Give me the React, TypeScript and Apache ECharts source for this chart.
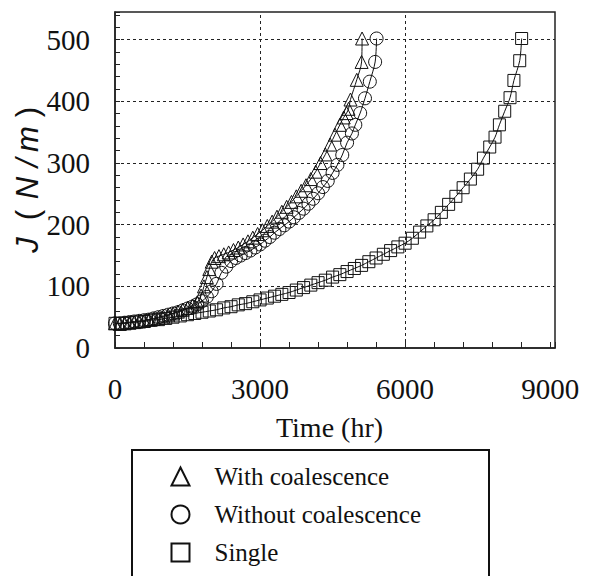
import React, { useEffect, useRef } from "react";
import * as echarts from "echarts";

// With coalescence (triangles)
const withTime = [0, 100, 200, 300, 400, 500, 600, 700, 800, 900, 1000, 1100, 1200, 1300, 1400, 1500, 1600, 1700,
  1780, 1840, 1900, 1950, 2000, 2060,
  2150, 2250, 2350, 2450, 2550, 2650, 2750, 2850, 2950, 3050, 3150, 3250, 3350, 3450, 3550, 3650, 3750, 3850, 3950, 4050, 4150, 4250, 4350, 4450, 4550, 4650,
  4730, 4790, 4830, 4870, 5000, 5100, 5110];
const withJ = [40, 39, 40, 41, 42, 43, 44, 46, 47, 49, 51, 53, 56, 59, 62, 65, 69, 74,
  85, 100, 115, 128, 140, 146,
  149, 152, 155, 159, 163, 168, 173, 179, 185, 191, 198, 205, 213, 221, 229, 237, 246, 255, 264, 274, 286, 300, 314, 330, 346, 362,
  374, 381, 388, 403, 435, 464, 502];

// Without coalescence (circles)
const withoutTime = [0, 100, 200, 300, 400, 500, 600, 700, 800, 900, 1000, 1100, 1200, 1300, 1400, 1500, 1600, 1700, 1800, 1900,
  2000, 2100, 2200, 2300, 2400, 2500, 2600, 2700, 2800, 2900, 3000, 3100, 3200, 3300, 3400, 3500, 3600, 3700, 3800, 3900,
  4000, 4100, 4200, 4300, 4400, 4500, 4600, 4700, 4800, 4900, 4970, 5070, 5170, 5270, 5380, 5410];
const withoutJ = [40, 40, 41, 42, 43, 44, 45, 46, 48, 50, 52, 54, 56, 58, 61, 64, 67, 71, 76, 83,
  92, 104, 122, 132, 141, 146, 150, 154, 158, 163, 168, 174, 180, 187, 193, 199, 205, 212, 219, 226,
  234, 242, 251, 261, 271, 284, 297, 313, 333, 348, 362, 381, 405, 432, 464, 502];

// Single (squares)
const singleTime = [0, 150, 300, 450, 600, 750, 900, 1050, 1200, 1350, 1500, 1650, 1800, 1950, 2100, 2250, 2400, 2550, 2700, 2850,
  3000, 3150, 3300, 3450, 3600, 3750, 3900, 4050, 4200, 4350, 4500, 4650, 4800, 4950, 5100, 5250, 5400, 5550, 5700, 5850,
  6000, 6150, 6300, 6450, 6600, 6750, 6900, 7050, 7200, 7350, 7500,
  7620, 7750, 7860, 7950, 8060, 8170, 8250, 8370, 8410];
const singleJ = [40, 40, 41, 42, 43, 45, 46, 48, 50, 52, 54, 56, 58, 60, 62, 65, 67, 70, 72, 75,
  78, 81, 84, 87, 90, 94, 98, 102, 106, 110, 115, 119, 124, 129, 134, 140, 146, 152, 158, 164,
  170, 178, 188, 198, 208, 220, 233, 246, 260, 274, 290,
  308, 326, 342, 362, 384, 406, 434, 466, 502];

const xTickLabels = [0, 3000, 6000, 9000];
const yTickLabels = [0, 100, 200, 300, 400, 500];
const xGridValues = [3000, 6000];
const yGridValues = [100, 200, 300, 400, 500];
const seriesNames = ["With coalescence", "Without coalescence", "Single"];

const serif = "'Liberation Serif', 'Times New Roman', serif";
const sans = "'Liberation Sans', Arial, sans-serif";

export default function App() {
  const ref = useRef<HTMLDivElement>(null);
  useEffect(() => {
    const chart = echarts.init(ref.current!, null, { renderer: "svg" });
    const pair = (t: number[], j: number[]) => t.map((v, i) => [v, j[i]]);
    const markerStyle = { color: "rgba(0,0,0,0)", borderColor: "#111", borderWidth: 1 };
    const lineStyle = { color: "#111", width: 1 };

    const yNameGlyphs = [
      { ch: "J", y: 245, italic: true },
      { ch: "(", y: 215, italic: false },
      { ch: "N", y: 188, italic: true },
      { ch: "/", y: 163, italic: true },
      { ch: "m", y: 139, italic: true },
      { ch: ")", y: 112, italic: false },
    ];

    chart.setOption({
      animation: false,
      backgroundColor: "#fff",
      grid: { left: 115, top: 12, width: 440, height: 336, show: true, borderColor: "#222", borderWidth: 1.5 },
      xAxis: {
        type: "value", min: 0, max: 9100, interval: 600,
        axisLine: { show: true, lineStyle: { color: "#222", width: 1.5 } },
        axisTick: { show: true, inside: true, length: 6, lineStyle: { color: "#222" } },
        splitLine: { show: false },
        axisLabel: {
          margin: 26, fontFamily: serif, fontSize: 29, color: "#111",
          formatter: (v: number) => (xTickLabels.includes(v) ? String(v) : ""),
        },
      },
      yAxis: {
        type: "value", min: 0, max: 545, interval: 20,
        axisLine: { show: true, lineStyle: { color: "#222", width: 1.5 } },
        axisTick: { show: true, inside: true, length: 5, lineStyle: { color: "#222" } },
        splitLine: { show: false },
        axisLabel: {
          margin: 25, fontFamily: serif, fontSize: 29, color: "#111",
          formatter: (v: number) => (yTickLabels.includes(v) ? String(v) : ""),
        },
      },
      legend: {
        orient: "vertical", left: 170.5, top: 464, height: 110, padding: 0,
        itemWidth: 18, itemHeight: 18, itemGap: 13,
        selectedMode: false,
        textStyle: { fontFamily: serif, fontSize: 25, color: "#111", padding: [0, 0, 0, 20] },
        data: [
          { name: seriesNames[0], icon: "triangle" },
          { name: seriesNames[1], icon: "circle" },
          { name: seriesNames[2], icon: "rect" },
        ],
      },
      graphic: [
        { type: "rect", silent: true, shape: { x: 132, y: 450, width: 357, height: 140 }, style: { fill: "none", stroke: "#111", lineWidth: 2 } },
        { type: "text", silent: true, x: 329.5, y: 427, style: { text: "Time (hr)", font: `28px ${serif}`, fill: "#111", align: "center", verticalAlign: "middle" } },
        ...yNameGlyphs.map((g) => ({
          type: "text", silent: true, x: 27, y: g.y, rotation: Math.PI / 2,
          style: { text: g.ch, font: `${g.italic ? "italic " : ""}31px ${sans}`, fill: "#111", align: "center", verticalAlign: "middle" },
        })),
      ],
      series: [
        {
          type: "line", name: seriesNames[2], data: pair(singleTime, singleJ),
          symbol: "rect", symbolSize: 12, smooth: 0.3, lineStyle, itemStyle: markerStyle,
          markLine: {
            silent: true, symbol: "none", label: { show: false },
            lineStyle: { color: "#222", type: [3, 3], width: 1 },
            data: [...yGridValues.map((v) => ({ yAxis: v })), ...xGridValues.map((v) => ({ xAxis: v }))],
          },
        },
        {
          type: "line", name: seriesNames[1], data: pair(withoutTime, withoutJ),
          symbol: "circle", symbolSize: 13, smooth: 0.3, lineStyle, itemStyle: markerStyle,
        },
        {
          type: "line", name: seriesNames[0], data: pair(withTime, withJ),
          symbol: "triangle", symbolSize: 13, smooth: 0.3, lineStyle, itemStyle: markerStyle,
        },
      ],
    });
    return () => chart.dispose();
  }, []);
  return <div ref={ref} style={{ position: "fixed", left: 0, top: 0, width: 590, height: 576 }} />;
}
